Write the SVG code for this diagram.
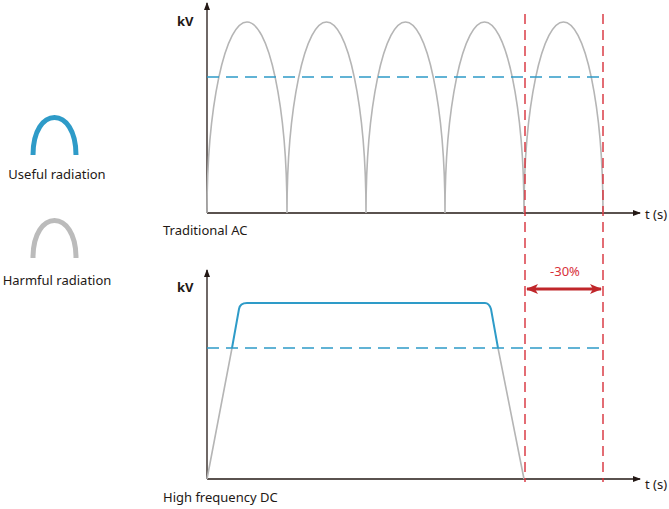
<svg xmlns="http://www.w3.org/2000/svg" width="669" height="509" viewBox="0 0 669 509">
<style>
text{font-family:"Noto Sans","Liberation Sans",sans-serif;fill:#231815;font-size:13px}
.ax{stroke:#231815;stroke-width:1.3;fill:none}
.g{stroke:#b5b5b5;stroke-width:1.6;fill:none}
.b{stroke:#2e9bc8;stroke-width:2;fill:none}
.bd{stroke:#2e9bc8;stroke-width:1.6;stroke-dasharray:12 7;fill:none}
.rd{stroke:#d8303a;stroke-width:1.4;stroke-dasharray:10 6;fill:none}
</style>
<defs>
<marker id="ah" markerWidth="8" markerHeight="6" refX="7" refY="3" orient="auto" markerUnits="userSpaceOnUse"><path d="M0,0L8,3L0,6z" fill="#231815"/></marker>
<marker id="ra" markerWidth="12" markerHeight="10" refX="11" refY="5" orient="auto-start-reverse" markerUnits="userSpaceOnUse"><path d="M0,0L12,5L0,10L3,5z" fill="#c0262a"/></marker>
</defs>
<g id="legend">
<path d="M33,155 C33,105 76,105 76,155" stroke="#2e9bc8" stroke-width="5" fill="none"/>
<text x="57" y="179" text-anchor="middle">Useful radiation</text>
<path d="M33,258 C33,208 76,208 76,258" stroke="#bbb" stroke-width="5" fill="none"/>
<text x="57" y="285" text-anchor="middle">Harmful radiation</text>
</g>
<g id="connectors">
<line class="ax" x1="207" y1="213" x2="207" y2="3" marker-end="url(#ah)"/>
<line class="ax" x1="207" y1="213" x2="640" y2="213" marker-end="url(#ah)"/>
<path class="g" d="M207,213 A40,191 0 0 1 287,213 A39.5,191 0 0 1 366,213 A39.5,191 0 0 1 445,213 A39.5,191 0 0 1 524,213 A39.5,191 0 0 1 603,213"/>
<line class="bd" x1="207" y1="77" x2="603" y2="77"/>
<line class="ax" x1="207" y1="479" x2="207" y2="270" marker-end="url(#ah)"/>
<line class="ax" x1="207" y1="479" x2="640" y2="479" marker-end="url(#ah)"/>
<path class="g" d="M207,479 L232,348 M498,348 L524,479"/>
<path class="b" d="M232,348 L239,309 Q240,303 247,303 L485,303 Q489,303 491,309 L498,348"/>
<line class="bd" x1="207" y1="348" x2="603" y2="348"/>
<line class="rd" x1="525" y1="14" x2="525" y2="482"/>
<line class="rd" x1="603" y1="14" x2="603" y2="482"/>
<line x1="527" y1="289" x2="601" y2="289" stroke="#c0262a" stroke-width="3" marker-start="url(#ra)" marker-end="url(#ra)"/>
</g>
<g id="labels">
<text x="177" y="26" font-size="15" font-weight="bold">kV</text>
<text x="177" y="292" font-size="15" font-weight="bold">kV</text>
<text x="645" y="219" font-size="14">t (s)</text>
<text x="645" y="489" font-size="14">t (s)</text>
<text x="163" y="235">Traditional AC</text>
<text x="163" y="502">High frequency DC</text>
<text x="565" y="276" text-anchor="middle" style="fill:#d8303a">-30%</text>
</g>
</svg>
